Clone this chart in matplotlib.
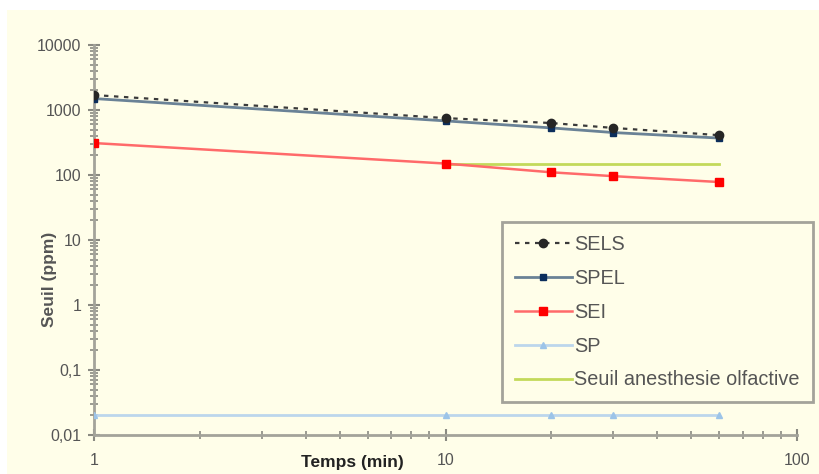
import matplotlib
matplotlib.use("Agg")
import matplotlib.pyplot as plt
from matplotlib.patches import Rectangle

# data ------------------------------------------------------------------------
temps = [1, 10, 20, 30, 60]              # min
sels = [1700, 750, 630, 530, 410]        # ppm
spel = [1500, 680, 530, 450, 370]
sei = [310, 150, 110, 96, 78]
sp = [0.02, 0.02, 0.02, 0.02, 0.02]
temps_olf = [10, 20, 30, 60]
anesth_olf = [150, 150, 150, 150]

yticks = [0.01, 0.1, 1, 10, 100, 1000, 10000]
ytick_labels = ["0,01", "0,1", "1", "10", "100", "1000", "10000"]
xticks = [1, 10, 100]
xtick_labels = ["1", "10", "100"]

CREAM = "#fffee9"
AXC = "#a3a39a"

plt.rcParams["font.family"] = ["Liberation Sans", "DejaVu Sans"]

fig = plt.figure(figsize=(8.19, 4.74), dpi=100, facecolor="white")
# cream chart area (white margin top/left like the source)
fig.patches.append(Rectangle((7 / 819, 0), 1 - 7 / 819, 1 - 10 / 474,
                             transform=fig.transFigure, fc=CREAM, ec="none", zorder=-10))

ax = fig.add_axes([94 / 819, 1 - 435 / 474, 703 / 819, 390 / 474])
ax.set_facecolor(CREAM)
ax.set_xscale("log")
ax.set_yscale("log")

ax.plot(temps, sp, color="#bcd6ec", lw=2, marker="^", ms=5,
        mfc="#9cc4e8", mec="#9cc4e8", label="SP", zorder=3)
ax.plot(temps_olf, anesth_olf, color="#c3d95a", lw=2, label="Seuil anesthesie olfactive", zorder=3)
ax.plot(temps, sei, color="#ff6a6a", lw=1.8, marker="s", ms=6,
        mfc="#ff0000", mec="#ff0000", label="SEI", zorder=4)
ax.plot(temps, spel, color="#6a8296", lw=2, marker="s", ms=4,
        mfc="#0b2e5c", mec="#0b2e5c", label="SPEL", zorder=4)
ax.plot(temps, sels, color="#3a3a3a", lw=1.6, ls=(0, (2, 2.5)), marker="o", ms=6,
        mfc="#262626", mec="#262626", label="SELS", zorder=5)

ax.set_xlim(1, 100)
ax.set_ylim(0.01, 10000)
ax.set_xticks(xticks, labels=xtick_labels)
ax.set_yticks(yticks, labels=ytick_labels)

for s in ["top", "right"]:
    ax.spines[s].set_visible(False)
for s in ["left", "bottom"]:
    ax.spines[s].set_color(AXC)
    ax.spines[s].set_linewidth(2)

ax.tick_params(which="major", direction="inout", length=8, width=1.5, color="#8a8a82",
               labelsize=11.5, labelcolor="#555555")
ax.tick_params(which="minor", direction="inout", length=6, width=1.2, color="#8a8a82")
ax.tick_params(axis="x", which="major", pad=9)
ax.tick_params(axis="y", which="major", pad=5)

ax.set_xlabel("Temps (min)", fontsize=12.5, fontweight="bold", color="#222222")
ax.xaxis.set_label_coords(0.367, -0.05)
ax.set_ylabel("Seuil (ppm)", fontsize=12.5, fontweight="bold", color="#555555")
ax.yaxis.set_label_coords(-0.052, 0.40)

handles, labels = ax.get_legend_handles_labels()
order = [4, 3, 2, 0, 1]
leg = ax.legend([handles[i] for i in order], [labels[i] for i in order],
                loc="upper left", bbox_to_anchor=(502 / 819, 1 - 222 / 474),
                bbox_transform=fig.transFigure, fontsize=14.3, frameon=True,
                fancybox=False, handlelength=2.85, handletextpad=0.15,
                labelspacing=0.75, borderpad=0.65, borderaxespad=0)
leg.get_frame().set_facecolor(CREAM)
leg.get_frame().set_edgecolor(AXC)
leg.get_frame().set_linewidth(2)
leg.get_frame().set_alpha(1)
for t in leg.get_texts():
    t.set_color("#555555")

fig.savefig("out.png", dpi=100, facecolor=fig.get_facecolor())
